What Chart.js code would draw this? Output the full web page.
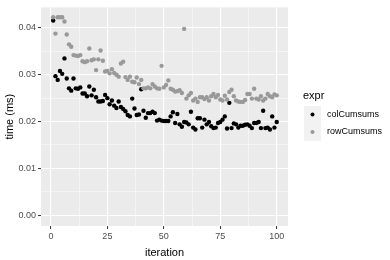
<!DOCTYPE html>
<html>
<head>
<meta charset="utf-8">
<script src="https://cdn.jsdelivr.net/npm/chart.js"></script>
<style>
  html, body { margin: 0; padding: 0; background: #fff; overflow: hidden; }
  canvas { display: block; }
</style>
</head>
<body>
<canvas id="timing" width="390" height="260"></canvas>

<script>
    // values
    const iterations = Array.from({length: 100}, (_, i) => i + 1);
    const colCumsums = [
        0.0416, 0.0297, 0.0289, 0.0308, 0.0302, 0.0335, 0.0292, 0.0271, 0.0266, 0.0292,
        0.0271, 0.0270, 0.0273, 0.0260, 0.0260, 0.0254, 0.0275, 0.0256, 0.0268, 0.0252,
        0.0243, 0.0243, 0.0244, 0.0257, 0.0250, 0.0237, 0.0245, 0.0234, 0.0229, 0.0243,
        0.0231, 0.0227, 0.0222, 0.0214, 0.0211, 0.0249, 0.0228, 0.0214, 0.0215, 0.0269,
        0.0223, 0.0208, 0.0218, 0.0218, 0.0221, 0.0218, 0.0202, 0.0204, 0.0202, 0.0201,
        0.0201, 0.0201, 0.0211, 0.0220, 0.0197, 0.0216, 0.0194, 0.0189, 0.0199, 0.0198,
        0.0194, 0.0221, 0.0187, 0.0183, 0.0207, 0.0207, 0.0187, 0.0204, 0.0194, 0.0199,
        0.0190, 0.0186, 0.0187, 0.0197, 0.0199, 0.0204, 0.0211, 0.0185, 0.0240, 0.0186,
        0.0196, 0.0194, 0.0187, 0.0191, 0.0191, 0.0193, 0.0194, 0.0191, 0.0186, 0.0197,
        0.0197, 0.0199, 0.0186, 0.0223, 0.0186, 0.0187, 0.0183, 0.0211, 0.0187, 0.0199
    ];
    const rowCumsums = [
        0.0423, 0.0388, 0.0423, 0.0423, 0.0423, 0.0414, 0.0386, 0.0365, 0.0360, 0.0342,
        0.0341, 0.0340, 0.0342, 0.0329, 0.0327, 0.0329, 0.0356, 0.0331, 0.0333, 0.0310,
        0.0333, 0.0352, 0.0330, 0.0307, 0.0308, 0.0303, 0.0312, 0.0304, 0.0300, 0.0296,
        0.0324, 0.0328, 0.0295, 0.0289, 0.0296, 0.0285, 0.0284, 0.0294, 0.0280, 0.0289,
        0.0271, 0.0271, 0.0273, 0.0271, 0.0280, 0.0275, 0.0271, 0.0270, 0.0319, 0.0273,
        0.0278, 0.0288, 0.0270, 0.0268, 0.0264, 0.0265, 0.0267, 0.0261, 0.0398, 0.0249,
        0.0256, 0.0261, 0.0245, 0.0249, 0.0242, 0.0252, 0.0252, 0.0248, 0.0252, 0.0245,
        0.0254, 0.0259, 0.0252, 0.0257, 0.0247, 0.0245, 0.0255, 0.0247, 0.0263, 0.0268,
        0.0254, 0.0245, 0.0243, 0.0242, 0.0242, 0.0246, 0.0259, 0.0259, 0.0249, 0.0270,
        0.0249, 0.0247, 0.0254, 0.0245, 0.0249, 0.0259, 0.0254, 0.0252, 0.0258, 0.0256
    ];
    const seriesNames = ["colCumsums", "rowCumsums"];
    const seriesColors = ["#000000", "#999999"];
    const xTicks = [0, 12.5, 25, 37.5, 50, 62.5, 75, 87.5, 100];
    const yTicks = [0, 0.005, 0.01, 0.015, 0.02, 0.025, 0.03, 0.035, 0.04];

    const FONT = "'Liberation Sans', Arial, sans-serif";

    const toPoints = ys => ys.map((y, i) => ({x: iterations[i], y: y}));

    // grey panel + ggplot style legend
    const ggPanel = {
        id: 'ggPanel',
        beforeDraw(chart) {
            const a = chart.chartArea, c = chart.ctx;
            c.save();
            c.fillStyle = '#EBEBEB';
            c.fillRect(a.left, a.top, a.right - a.left, a.bottom - a.top);
            c.restore();
        },
        afterDraw(chart) {
            const c = chart.ctx;
            c.save();
            c.fillStyle = '#000';
            c.font = '11px ' + FONT;
            c.textBaseline = 'middle';
            c.fillText('expr', 303, 96);
            c.fillStyle = '#F2F2F2';
            c.fillRect(304, 106, 17, 35);
            seriesNames.forEach((name, k) => {
                const cy = 114.5 + k * 17.5;
                c.fillStyle = seriesColors[k];
                c.beginPath();
                c.arc(312.5, cy, 2, 0, Math.PI * 2);
                c.fill();
                c.fillStyle = '#000';
                c.font = '9px ' + FONT;
                c.fillText(name, 327, cy);
            });
            c.restore();
        }
    };

    const isMajor = (v, step) => Math.abs(v / step - Math.round(v / step)) < 1e-9;

    const config = {
        type: 'scatter',
        data: {
            datasets: seriesNames.map((name, k) => ({
                label: name,
                data: toPoints(k === 0 ? colCumsums : rowCumsums),
                backgroundColor: seriesColors[k],
                borderColor: seriesColors[k],
                borderWidth: 0,
                pointRadius: 2.2,
                pointHoverRadius: 2.2
            })).reverse()
        },
        options: {
            responsive: false,
            animation: false,
            devicePixelRatio: 1,
            layout: {padding: {left: 0, top: 5, right: 102, bottom: 0}},
            plugins: {legend: {display: false}, tooltip: {enabled: false}},
            scales: {
                x: {
                    type: 'linear',
                    min: -4.4,
                    max: 105,
                    afterBuildTicks: s => { s.ticks = xTicks.map(v => ({value: v})); },
                    afterFit: s => { s.height = 34; },
                    border: {display: false},
                    grid: {
                        color: '#FFFFFF',
                        lineWidth: ctx => isMajor(ctx.tick.value, 25) ? 1.1 : 0.5,
                        tickColor: ctx => isMajor(ctx.tick.value, 25) ? '#333333' : 'rgba(0,0,0,0)',
                        tickLength: 3,
                        tickWidth: 1
                    },
                    ticks: {
                        color: '#4D4D4D',
                        font: {family: FONT, size: 9},
                        padding: 2,
                        maxRotation: 0,
                        autoSkip: false,
                        callback: v => isMajor(v, 25) ? String(v) : ''
                    },
                    title: {
                        display: true,
                        text: 'iteration',
                        color: '#000',
                        font: {family: FONT, size: 11},
                        padding: {top: 2, bottom: 0}
                    }
                },
                y: {
                    type: 'linear',
                    min: -0.00233,
                    max: 0.0444,
                    afterBuildTicks: s => { s.ticks = yTicks.map(v => ({value: v})); },
                    afterFit: s => { s.width = 41; },
                    border: {display: false},
                    grid: {
                        color: '#FFFFFF',
                        lineWidth: ctx => isMajor(ctx.tick.value, 0.01) ? 1.1 : 0.5,
                        tickColor: ctx => isMajor(ctx.tick.value, 0.01) ? '#333333' : 'rgba(0,0,0,0)',
                        tickLength: 3,
                        tickWidth: 1
                    },
                    ticks: {
                        color: '#4D4D4D',
                        font: {family: FONT, size: 9},
                        padding: 2,
                        autoSkip: false,
                        callback: v => isMajor(v, 0.01) ? v.toFixed(2) : ''
                    },
                    title: {
                        display: true,
                        text: 'time (ms)',
                        color: '#000',
                        font: {family: FONT, size: 11},
                        padding: {top: 3, bottom: 0}
                    }
                }
            }
        },
        plugins: [ggPanel]
    };

    const timing = new Chart(document.getElementById('timing'), config);
</script>
</body>
</html>
